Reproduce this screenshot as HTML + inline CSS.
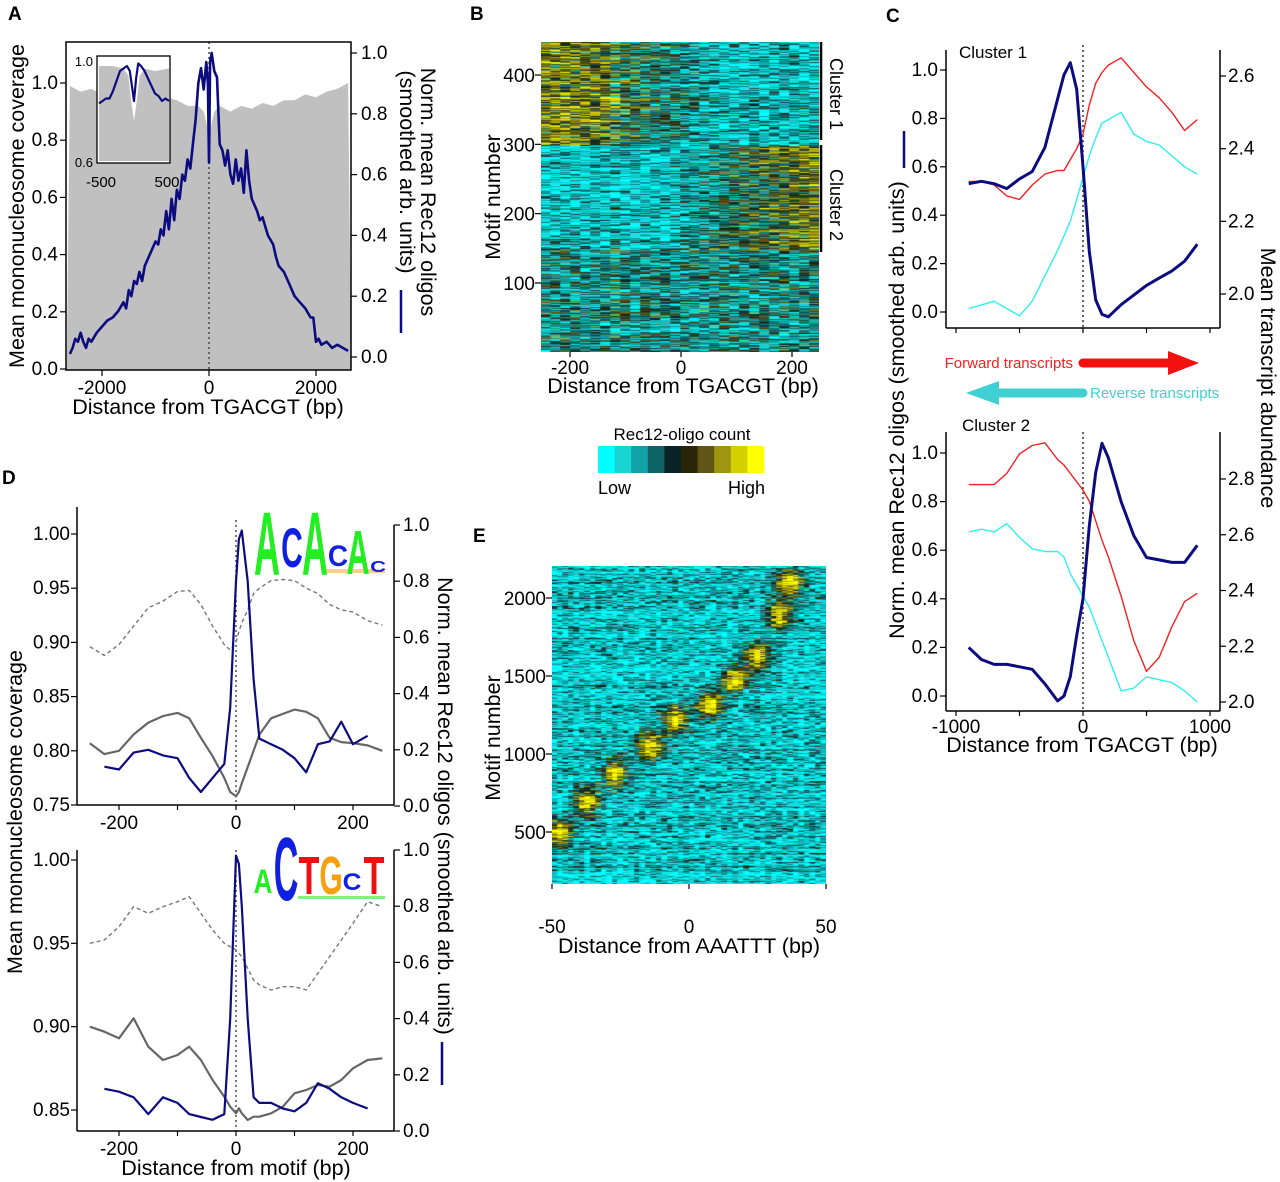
<!DOCTYPE html>
<html><head><meta charset="utf-8">
<style>
body{margin:0;background:#fff;}
#wrap{position:relative;width:1280px;height:1182px;overflow:hidden;background:#fff;font-family:"Liberation Sans",sans-serif;}
svg{position:absolute;left:0;top:0;}
canvas{position:absolute;}
</style></head>
<body>
<div id="wrap">
<canvas id="hmB" width="278" height="310" style="left:541px;top:42px"></canvas>
<canvas id="hmE" width="274" height="318" style="left:552px;top:566px"></canvas>
<svg id="fig" width="1280" height="1182"></svg>
</div>
<script>
// ---------- DATA ----------
// Panel A
const aBlueX=[-2600,-2550,-2500,-2450,-2400,-2350,-2300,-2250,-2200,-2100,-2000,-1900,-1800,-1700,-1600,-1550,-1500,-1450,-1400,-1350,-1300,-1250,-1200,-1100,-1000,-950,-900,-850,-800,-750,-700,-650,-600,-550,-500,-450,-400,-350,-300,-250,-200,-150,-100,-50,-20,0,20,50,100,150,200,250,300,350,400,450,500,550,600,650,700,750,800,850,900,950,1000,1100,1200,1250,1300,1400,1500,1600,1700,1800,1900,1950,2000,2050,2100,2200,2300,2400,2500,2600];
const aBlueY=[0.01,0.03,0.06,0.05,0.08,0.05,0.03,0.06,0.05,0.08,0.10,0.12,0.13,0.15,0.18,0.16,0.22,0.20,0.25,0.24,0.28,0.25,0.30,0.34,0.38,0.37,0.42,0.40,0.48,0.42,0.52,0.45,0.55,0.52,0.60,0.58,0.65,0.62,0.70,0.78,0.90,0.95,0.88,0.97,0.90,0.64,0.97,1.00,0.94,0.92,0.70,0.68,0.63,0.68,0.60,0.57,0.65,0.58,0.62,0.54,0.68,0.58,0.52,0.50,0.48,0.45,0.46,0.40,0.37,0.33,0.30,0.28,0.24,0.20,0.18,0.16,0.13,0.13,0.05,0.06,0.04,0.05,0.03,0.04,0.03,0.02];
const aGreyX=[-2600,-2400,-2200,-2000,-1800,-1600,-1400,-1200,-1000,-800,-600,-400,-200,-100,0,100,200,400,600,800,1000,1200,1400,1600,1800,2000,2200,2400,2600];
const aGreyY=[0.99,0.97,0.98,0.96,0.97,0.95,0.97,0.96,0.96,0.95,0.94,0.92,0.92,0.90,0.82,0.90,0.92,0.90,0.92,0.91,0.93,0.92,0.94,0.94,0.96,0.95,0.97,0.98,1.00];
const insetBlueX=[-500,-450,-400,-350,-300,-250,-200,-150,-100,-60,-30,0,30,60,100,150,200,250,300,350,400,450,500];
const insetBlueY=[0.83,0.84,0.85,0.85,0.88,0.92,0.96,0.97,0.98,0.96,0.90,0.84,0.93,0.99,0.98,0.96,0.93,0.90,0.87,0.86,0.84,0.85,0.84];
const insetGreyX=[-500,-300,-150,-80,-40,0,40,80,150,300,500];
const insetGreyY=[0.98,0.98,0.97,0.94,0.84,0.76,0.84,0.94,0.97,0.96,0.97];
const aXTicks=[-2000,0,2000];
const aLTicks=[0.0,0.2,0.4,0.6,0.8,1.0];
const aRTicks=[0.0,0.2,0.4,0.6,0.8,1.0];
// Panel C
const cX=[-900,-800,-700,-600,-500,-400,-300,-200,-150,-100,-50,0,50,100,150,200,300,400,500,600,700,800,900];
const c1Blue=[0.53,0.54,0.53,0.51,0.55,0.58,0.68,0.88,0.98,1.03,0.92,0.60,0.25,0.05,-0.01,-0.02,0.03,0.07,0.11,0.14,0.17,0.21,0.28];
const c1Red=[2.31,2.31,2.30,2.27,2.26,2.30,2.33,2.34,2.34,2.37,2.40,2.44,2.52,2.58,2.61,2.63,2.65,2.61,2.57,2.54,2.50,2.45,2.48];
const c1Cyan=[1.96,1.97,1.98,1.96,1.94,1.98,2.05,2.12,2.16,2.20,2.26,2.32,2.38,2.43,2.47,2.48,2.50,2.44,2.42,2.41,2.38,2.35,2.33];
const c2Blue=[0.20,0.15,0.13,0.13,0.12,0.11,0.05,-0.02,0.00,0.08,0.25,0.40,0.70,0.92,1.04,0.98,0.80,0.66,0.57,0.56,0.55,0.55,0.62];
const c2Red=[2.78,2.78,2.78,2.82,2.89,2.92,2.93,2.87,2.85,2.82,2.79,2.76,2.72,2.65,2.58,2.52,2.38,2.22,2.11,2.16,2.27,2.36,2.39];
const c2Cyan=[2.61,2.62,2.61,2.64,2.59,2.55,2.54,2.54,2.52,2.46,2.42,2.38,2.34,2.28,2.22,2.16,2.04,2.05,2.09,2.08,2.07,2.04,2.00];
const cXTicks=[-1000,0,1000];
const c1LTicks=[0.0,0.2,0.4,0.6,0.8,1.0];
const c1RTicks=[2.0,2.2,2.4,2.6];
const c2RTicks=[2.0,2.2,2.4,2.6,2.8];
// Panel D
const dX=[-250,-225,-200,-175,-150,-125,-100,-80,-60,-40,-20,-10,0,5,10,20,30,40,60,80,100,120,140,160,180,200,225,250];
const d1Grey=[0.807,0.797,0.800,0.815,0.826,0.832,0.835,0.830,0.812,0.795,0.775,0.762,0.758,0.762,0.770,0.785,0.800,0.815,0.830,0.834,0.838,0.836,0.830,0.812,0.808,0.807,0.805,0.800];
const d1Dash=[0.896,0.888,0.898,0.915,0.932,0.938,0.947,0.948,0.935,0.915,0.898,0.893,0.900,0.910,0.918,0.930,0.945,0.950,0.957,0.958,0.957,0.950,0.945,0.935,0.930,0.928,0.920,0.916];
const d1Blue=[null,0.14,0.13,0.19,0.20,0.18,0.17,0.10,0.05,0.10,0.15,0.35,0.80,0.95,0.98,0.80,0.45,0.24,0.22,0.20,0.17,0.12,0.22,0.23,0.30,0.22,0.25,null];
const d2Grey=[0.900,0.897,0.893,0.905,0.888,0.880,0.883,0.888,0.880,0.868,0.858,0.852,0.848,0.851,0.848,0.844,0.846,0.846,0.848,0.852,0.860,0.862,0.865,0.864,0.868,0.875,0.880,0.881];
const d2Dash=[0.950,0.952,0.960,0.972,0.968,0.972,0.975,0.978,0.968,0.958,0.950,0.948,0.946,0.944,0.942,0.935,0.928,0.925,0.922,0.924,0.924,0.922,0.932,0.942,0.952,0.962,0.975,0.972];
const d2Blue=[null,0.15,0.14,0.12,0.06,0.12,0.10,0.06,0.05,0.04,0.06,0.40,0.98,0.95,0.80,0.40,0.12,0.10,0.10,0.08,0.07,0.10,0.17,0.15,0.12,0.10,0.08,null];
const dXTicks=[-200,0,200];
const d1LTicks=[0.75,0.80,0.85,0.90,0.95,1.00];
const d2LTicks=[0.85,0.90,0.95,1.00];
const dRTicks=[0.0,0.2,0.4,0.6,0.8,1.0];
// Heatmaps
const bYTicks=[100,200,300,400];
const bXTicks=[-200,0,200];
const eYTicks=[500,1000,1500,2000];
const eXTicks=[-50,0,50];
const eBlobMotif=[350,570,770,960,1140,1240,1420,1580,1860,2090];
const eBlobDist=[-47,-37,-27,-14,-5,8,17,25,33,37];
const cbColors=["#00ffff","#1ad4d4","#12a3a8","#0e6366","#0a2327","#2a2508","#615515","#9e9610","#d4d000","#ffff00"];

// ---------- HELPERS ----------
const NS="http://www.w3.org/2000/svg";
const svg=document.getElementById('fig');
function el(tag,attrs,parent,text){const e=document.createElementNS(NS,tag);for(const k in attrs)e.setAttribute(k,attrs[k]);if(text!==undefined)e.textContent=text;(parent||svg).appendChild(e);return e;}
function lin(d0,d1,r0,r1){return v=>r0+(v-d0)*(r1-r0)/(d1-d0);}
function txt(x,y,s,size,anchor,name,extra){const t=el('text',Object.assign({x:x,y:y,'font-size':size,'text-anchor':anchor||'middle',fill:'#000','font-family':'Liberation Sans, sans-serif'},extra||{}),svg,s);return t;}
function line(xs,ys,sx,sy,style,name,dash){let d='';let pen=false;xs.forEach((x,i)=>{if(ys[i]===null){pen=false;return;}d+=(pen?'L':'M')+sx(x).toFixed(1)+','+sy(ys[i]).toFixed(1);pen=true;});const p=el('path',{d:d,fill:'none',stroke:style.c,'stroke-width':style.w,'stroke-linejoin':'round','stroke-dasharray':dash||'none'});return p;}
function seg(x1,y1,x2,y2,c,w,name,dash){const l=el('line',{x1:x1,y1:y1,x2:x2,y2:y2,stroke:c||'#000','stroke-width':w||1.5,'stroke-dasharray':dash||'none'});return l;}
function fmt(v,d){return v.toFixed(d);}
const TK=19, TT=21.5;

// ---------- PANEL A ----------
(function(){
const sx=lin(0,2000,209,316), syL=lin(0,1,369,83), syR=lin(0,1,357,53);
let d='M'+sx(-2660)+',370';aGreyX.forEach((x,i)=>{d+='L'+sx(x).toFixed(1)+','+syL(aGreyY[i]).toFixed(1);});d+='L'+sx(2660)+',370Z';
const area=el('path',{d:d,fill:'#c0c0c0'});
seg(209,42,209,370,'#333',1.3,'zero-line','2,3');
line(aBlueX,aBlueY,sx,syR,{c:'#0c0c80',w:2.6},'rec12-oligo-line');
const box=el('rect',{x:66,y:42,width:285,height:328,fill:'none',stroke:'#000','stroke-width':1.5});
aXTicks.forEach(v=>{seg(sx(v),370,sx(v),376,'#000',1.2,'x-tick');txt(sx(v),394,fmt(v,0),TK,'middle','x-tick-label');});
aLTicks.forEach(v=>{seg(60,syL(v),66,syL(v),'#000',1.2,'y-tick-left');txt(58,syL(v)+6,fmt(v,1),TK,'end','y-tick-label-left');});
aRTicks.forEach(v=>{seg(351,syR(v),357,syR(v),'#000',1.2,'y-tick-right');txt(361,syR(v)+6,fmt(v,1),TK,'start','y-tick-label-right');});
txt(208,414,'Distance from TGACGT (bp)',TT,'middle','x-axis-title-a');
txt(0,0,'Mean mononucleosome coverage',TT,'middle','y-axis-title-a',{transform:'translate(24,206) rotate(-90)'});
txt(0,0,'Norm. mean Rec12 oligos',TT,'middle','y2-axis-title-a',{transform:'translate(421,192) rotate(90)'});
txt(0,0,'(smoothed arb. units)',TT,'middle','y2-axis-subtitle-a',{transform:'translate(400,172) rotate(90)'});
seg(401,290,401,333,'#0c0c80',2.5,'legend-swatch-a');
const ix=lin(-500,500,99,169), iy=lin(0.6,1.0,161,61);
const inBg=el('rect',{x:97,y:56,width:73,height:107,fill:'#fff'});
let gd='M'+ix(-500)+',161';insetGreyX.forEach((x,i)=>{gd+='L'+ix(x).toFixed(1)+','+iy(insetGreyY[i]).toFixed(1);});gd+='L'+ix(500)+',161Z';
const ia=el('path',{d:gd,fill:'#c0c0c0'});
line(insetBlueX,insetBlueY,ix,iy,{c:'#0c0c80',w:2.2},'inset-rec12-line');
const ib=el('rect',{x:97,y:56,width:73,height:107,fill:'none',stroke:'#000','stroke-width':1.3});
txt(93,66,'1.0',13,'end','inset-y-label');txt(93,167,'0.6',13,'end','inset-y-label');
txt(101,187,'-500',15,'middle','inset-x-label');txt(167,187,'500',15,'middle','inset-x-label');
})();

// ---------- PANEL B heatmap ----------
function hash(a,b){let h=(a*374761393+b*668265263)|0;h=(h^(h>>>13))*1274126177|0;h=h^(h>>>16);return ((h>>>0)%10000)/10000;}
function col(v){v=Math.max(0,Math.min(0.999,v));return cbColors[Math.floor(v*10)];}
(function(){
const c=document.getElementById('hmB').getContext('2d');
const W=278,H=310,rows=450,cols=28;
for(let r=0;r<rows;r++){const m=rows-r;const rn=hash(r,7);
 for(let k=0;k<cols;k++){const dist=-250+k*500/cols;let base;
  if(m>300){base=0.18+0.5*Math.max(0,Math.min(1,(60-dist)/260));}
  else if(m>150){base=0.15+0.5*Math.max(0,Math.min(1,(dist+40)/260));}
  else base=0.32;
  const v=base+(hash(r,k)-0.5)*0.7+(rn-0.5)*0.25;
  c.fillStyle=col(v);c.fillRect(Math.floor(k*W/cols),r*H/rows,Math.ceil(W/cols)+1,H/rows+0.6);}}
const sy=lin(100,400,283,75), sx=lin(0,200,681,792);
bYTicks.forEach(v=>{seg(535,sy(v),541,sy(v),'#000',1.2,'y-tick-b');txt(535,sy(v)+7,String(v),TK,'end','y-tick-label-b');});
bXTicks.forEach(v=>{seg(sx(v),352,sx(v),357,'#000',1.2,'x-tick-b');txt(sx(v),374,String(v),TK,'middle','x-tick-label-b');});
txt(683,393,'Distance from TGACGT (bp)',TT,'middle','x-axis-title-b');
txt(0,0,'Motif number',TT,'middle','y-axis-title-b',{transform:'translate(500,197) rotate(-90)'});
seg(821,42,821,140,'#000',2.5,'cluster-1-bracket');seg(821,145,821,252,'#000',2.5,'cluster-2-bracket');
txt(0,0,'Cluster 1',18,'middle','cluster-1-label',{transform:'translate(830,94) rotate(90)'});
txt(0,0,'Cluster 2',18,'middle','cluster-2-label',{transform:'translate(830,205) rotate(90)'});
txt(682,440,'Rec12-oligo count',17,'middle','colorbar-title');
cbColors.forEach((cc,i)=>{const r=el('rect',{x:598+i*16.6,y:446,width:17,height:27,fill:cc});});
txt(598,494,'Low',18,'start','colorbar-low-label');txt(765,494,'High',18,'end','colorbar-high-label');
})();

// ---------- PANEL C ----------
(function(){
const sx=lin(0,1000,1083,1210);
const syL=lin(0,1,312,70), syR=lin(2.0,2.6,294,76);
seg(1083,45,1083,328,'#333',1.5,'zero-line-c1','2,3');
line(cX,c1Red,sx,syR,{c:'#f52020',w:1.4},'forward-transcripts-line-c1');
line(cX,c1Cyan,sx,syR,{c:'#2ef0f0',w:1.4},'reverse-transcripts-line-c1');
line(cX,c1Blue,sx,syL,{c:'#0c0c80',w:3},'rec12-oligo-line-c1');
seg(946,50,946,328,'#000',1.5,'y-axis-c1');seg(946,328,1220,328,'#000',1.5,'x-axis-c1');seg(1220,50,1220,328,'#000',1.5,'y2-axis-c1');
[-1000,-500,0,500,1000].forEach(v=>seg(sx(v),328,sx(v),333,'#000',1.2,'x-tick-c1'));
c1LTicks.forEach(v=>{seg(940,syL(v),946,syL(v),'#000',1.2,'y-tick-c1');txt(938,syL(v)+6,fmt(v,1),TK,'end','y-tick-label-c1');});
c1RTicks.forEach(v=>{seg(1220,syR(v),1226,syR(v),'#000',1.2,'y2-tick-c1');txt(1228,syR(v)+6,fmt(v,1),TK,'start','y2-tick-label-c1');});
txt(959,58,'Cluster 1',17,'start','cluster-1-title');
const fa=el('line',{x1:1083,y1:363,x2:1172,y2:363,stroke:'#f51010','stroke-width':9,'stroke-linecap':'round'});
const fh=el('polygon',{points:'1168,351 1199,363 1168,375',fill:'#f51010'});
txt(1073,368,'Forward transcripts',15,'end','forward-label',{fill:'#f52020'});
const ra=el('line',{x1:1083,y1:393,x2:995,y2:393,stroke:'#40d0d4','stroke-width':9,'stroke-linecap':'round'});
const rh=el('polygon',{points:'999,381 966,393 999,405',fill:'#40d0d4'});
txt(1090,398,'Reverse transcripts',15,'start','reverse-label',{fill:'#40d0d4'});
const sy2=lin(0,1,696,453), sr2=lin(2.0,2.8,702,479);
seg(1083,432,1083,711,'#333',1.5,'zero-line-c2','2,3');
line(cX,c2Red,sx,sr2,{c:'#f52020',w:1.4},'forward-transcripts-line-c2');
line(cX,c2Cyan,sx,sr2,{c:'#2ef0f0',w:1.4},'reverse-transcripts-line-c2');
line(cX,c2Blue,sx,sy2,{c:'#0c0c80',w:3},'rec12-oligo-line-c2');
seg(946,432,946,711,'#000',1.5,'y-axis-c2');seg(946,711,1220,711,'#000',1.5,'x-axis-c2');seg(1220,432,1220,711,'#000',1.5,'y2-axis-c2');
[-1000,-500,0,500,1000].forEach(v=>seg(sx(v),711,sx(v),716,'#000',1.2,'x-tick-c2'));
cXTicks.forEach(v=>txt(sx(v),733,String(v),TK,'middle','x-tick-label-c2'));
c1LTicks.forEach(v=>{seg(940,sy2(v),946,sy2(v),'#000',1.2,'y-tick-c2');txt(938,sy2(v)+6,fmt(v,1),TK,'end','y-tick-label-c2');});
c2RTicks.forEach(v=>{seg(1220,sr2(v),1226,sr2(v),'#000',1.2,'y2-tick-c2');txt(1228,sr2(v)+6,fmt(v,1),TK,'start','y2-tick-label-c2');});
txt(962,431,'Cluster 2',17,'start','cluster-2-title');
txt(1082,752,'Distance from TGACGT (bp)',TT,'middle','x-axis-title-c');
txt(0,0,'Norm. mean Rec12 oligos (smoothed arb. units)',TT,'middle','y-axis-title-c',{transform:'translate(904,410) rotate(-90)'});
seg(904,131,904,168,'#0c0c80',2.5,'legend-swatch-c');
txt(0,0,'Mean transcript abundance',TT,'middle','y2-axis-title-c',{transform:'translate(1261,378) rotate(90)'});
})();

// ---------- PANEL D ----------
(function(){
const sx=lin(0,200,236,353);
function logo(letters,name){letters.forEach(L=>{const t=el('text',{x:0,y:0,'font-size':40,'font-family':'Liberation Sans, sans-serif','font-weight':'bold',fill:L.c,'text-anchor':'middle',transform:'translate('+L.x+','+L.y+') scale('+L.sx+','+L.sy+')'},svg,L.t);});}
const syL=lin(0.75,1.0,805,534), syR=lin(0,1,806,525);
seg(236,520,236,805,'#333',1.3,'zero-line-d1','2,3');
line(dX,d1Dash,sx,syL,{c:'#777',w:1.4},'naked-dna-dashed-line-d1','4,3');
line(dX,d1Grey,sx,syL,{c:'#666',w:2.2},'nucleosome-line-d1');
line(dX,d1Blue,sx,syR,{c:'#0c0c80',w:2.2},'rec12-oligo-line-d1');
seg(77,507,77,805,'#000',1.5,'y-axis-d1');seg(77,805,394,805,'#000',1.5,'x-axis-d1');seg(394,525,394,805,'#000',1.5,'y2-axis-d1');
[-200,-100,0,100,200].forEach(v=>seg(sx(v),805,sx(v),810,'#000',1.2,'x-tick-d1'));
dXTicks.forEach(v=>txt(sx(v),829,String(v),TK,'middle','x-tick-label-d1'));
d1LTicks.forEach(v=>{seg(71,syL(v),77,syL(v),'#000',1.2,'y-tick-d1');txt(70,syL(v)+6,fmt(v,2),TK,'end','y-tick-label-d1');});
dRTicks.forEach(v=>{seg(394,syR(v),400,syR(v),'#000',1.2,'y2-tick-d1');txt(403,syR(v)+6,fmt(v,1),TK,'start','y2-tick-label-d1');});
const lb1=el('rect',{x:325,y:569,width:60,height:4,fill:'#f5a010',opacity:0.5});
logo([{t:'A',x:267,y:575,sx:0.9,sy:2.25,c:'#22ee22'},{t:'C',x:292,y:567,sx:0.75,sy:1.4,c:'#1020e0'},{t:'A',x:315,y:575,sx:0.9,sy:2.25,c:'#22ee22'},{t:'C',x:338,y:566,sx:0.7,sy:0.75,c:'#1020e0'},{t:'A',x:358,y:574,sx:0.8,sy:1.55,c:'#22ee22'},{t:'C',x:378,y:572,sx:0.55,sy:0.4,c:'#1020e0'}],'motif-logo-acacac');
const sy2=lin(0.85,1.0,1110,860), sr2=lin(0,1,1131,850);
seg(236,850,236,1131,'#333',1.3,'zero-line-d2','2,3');
line(dX,d2Dash,sx,sy2,{c:'#777',w:1.4},'naked-dna-dashed-line-d2','4,3');
line(dX,d2Grey,sx,sy2,{c:'#666',w:2.2},'nucleosome-line-d2');
line(dX,d2Blue,sx,sr2,{c:'#0c0c80',w:2.2},'rec12-oligo-line-d2');
seg(77,850,77,1131,'#000',1.5,'y-axis-d2');seg(77,1131,394,1131,'#000',1.5,'x-axis-d2');seg(394,850,394,1131,'#000',1.5,'y2-axis-d2');
[-200,-100,0,100,200].forEach(v=>seg(sx(v),1131,sx(v),1136,'#000',1.2,'x-tick-d2'));
dXTicks.forEach(v=>txt(sx(v),1155,String(v),TK,'middle','x-tick-label-d2'));
d2LTicks.forEach(v=>{seg(71,sy2(v),77,sy2(v),'#000',1.2,'y-tick-d2');txt(70,sy2(v)+6,fmt(v,2),TK,'end','y-tick-label-d2');});
dRTicks.forEach(v=>{seg(394,sr2(v),400,sr2(v),'#000',1.2,'y2-tick-d2');txt(403,sr2(v)+6,fmt(v,1),TK,'start','y2-tick-label-d2');});
const lb2=el('rect',{x:298,y:896,width:87,height:3,fill:'#22ee22',opacity:0.6});
logo([{t:'A',x:263,y:893,sx:0.65,sy:0.85,c:'#22ee22'},{t:'C',x:286,y:900,sx:0.85,sy:2.25,c:'#1020e0'},{t:'T',x:309,y:894,sx:0.85,sy:1.35,c:'#ee1010'},{t:'G',x:331,y:894,sx:0.75,sy:1.35,c:'#f5a010'},{t:'C',x:352,y:890,sx:0.65,sy:0.6,c:'#1020e0'},{t:'T',x:374,y:894,sx:0.85,sy:1.35,c:'#ee1010'}],'motif-logo-actgct');
txt(236,1175,'Distance from motif (bp)',TT,'middle','x-axis-title-d');
txt(0,0,'Mean mononucleosome coverage',TT,'middle','y-axis-title-d',{transform:'translate(22,812) rotate(-90)'});
txt(0,0,'Norm. mean Rec12 oligos (smoothed arb. units)',TT,'middle','y2-axis-title-d',{transform:'translate(438,806) rotate(90)'});
seg(442,1042,442,1085,'#0c0c80',2.5,'legend-swatch-d');
})();

// ---------- PANEL E heatmap ----------
(function(){
const c=document.getElementById('hmE').getContext('2d');
const W=274,H=318,rows=420,cols=50;
const my=lin(500,2000,832-566,598-566), mx=lin(-50,50,0,W);
for(let r=0;r<rows;r++){const m=2200-r*2200/rows;
 for(let k=0;k<cols;k++){const dist=-50+(k+0.5)*100/cols;let v=0.16+(hash(r,k+3)-0.5)*0.6+(hash(r,11)-0.5)*0.3;
  for(let b=0;b<eBlobMotif.length;b++){const dm=(m-eBlobMotif[b])/95, dd=(dist-eBlobDist[b])/4.5;v+=0.85*Math.exp(-(dm*dm+dd*dd));}
  c.fillStyle=col(v);c.fillRect(Math.floor(k*W/cols),r*H/rows,Math.ceil(W/cols)+1,H/rows+0.6);}}
const sy=v=>566+my(v), sx=v=>552+mx(v);
eYTicks.forEach(v=>{seg(546,sy(v),552,sy(v),'#000',1.2,'y-tick-e');txt(546,sy(v)+7,String(v),TK,'end','y-tick-label-e');});
eXTicks.forEach(v=>{seg(sx(v),884,sx(v),889,'#000',1.2,'x-tick-e');txt(Math.min(Math.max(sx(v),552),826),933,String(v),TK,'middle','x-tick-label-e');});
txt(689,953,'Distance from AAATTT (bp)',TT,'middle','x-axis-title-e');
txt(0,0,'Motif number',TT,'middle','y-axis-title-e',{transform:'translate(500,738) rotate(-90)'});
})();

[['A',8,20],['B',470,20],['C',886,22],['D',2,484],['E',473,542]].forEach(p=>{txt(p[1],p[2],p[0],19,'start','panel-letter-'+p[0].toLowerCase(),{'font-weight':'bold'});});
</script>
</body></html>
